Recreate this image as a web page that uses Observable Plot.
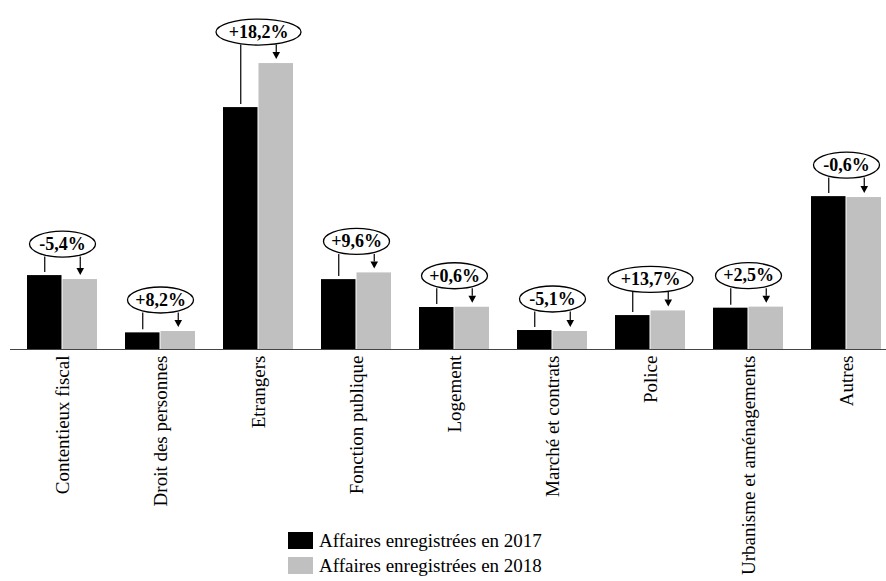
<!DOCTYPE html>
<html>
<head>
<meta charset="utf-8">
<script src="https://cdn.jsdelivr.net/npm/d3@7"></script>
<script src="https://cdn.jsdelivr.net/npm/@observablehq/plot@0.6"></script>
<style>
  html, body { margin: 0; padding: 0; background: #fff; overflow: hidden; }
  #chart { position: relative; width: 886px; height: 581px; overflow: hidden; }
  #chart svg { display: block; }
  .legend { position: absolute; left: 288px; top: 528px; font: 19px "Liberation Serif", serif; color: #000; }
  .legend .row { display: flex; align-items: center; height: 25px; white-space: nowrap; }
  .legend .sw { display: inline-block; width: 25px; height: 17px; margin-right: 6px; }
</style>
</head>
<body>
<div id="chart"></div>
<script>
// Matters handled by the administrative courts
const categories = [
  "Contentieux fiscal",
  "Droit des personnes",
  "Etrangers",
  "Fonction publique",
  "Logement",
  "Marché et contrats",
  "Police",
  "Urbanisme et aménagements",
  "Autres"
];

// Registered cases per matter
const cases2017 = [22000, 4950, 72000, 20800, 12500, 5650, 10100, 12300, 45500];
const cases2018 = [20810, 5356, 85104, 22797, 12575, 5362, 11484, 12608, 45227];

const seriesNames = ["Affaires enregistrées en 2017", "Affaires enregistrées en 2018"];
const seriesColors = ["#000000", "#c0c0c0"];

// Year-over-year change, French formatting (e.g. "+18,2%")
function changeLabel(a, b) {
  const pct = (b / a - 1) * 100;
  return (pct >= 0 ? "+" : "-") + Math.abs(pct).toFixed(1).replace(".", ",") + "%";
}

const rows = categories.map((category, i) => ({
  category,
  v2017: cases2017[i],
  v2018: cases2018[i],
  top: Math.max(cases2017[i], cases2018[i]),
  label: changeLabel(cases2017[i], cases2018[i])
}));

// Ellipse symbol: horizontal radius from the dot's r, fixed vertical radius
const RY = 13;
const ellipseSymbol = {
  draw(ctx, size) {
    const rx = Math.sqrt(size / Math.PI), ry = RY, k = 0.5523;
    ctx.moveTo(rx, 0);
    ctx.bezierCurveTo(rx, ry * k, rx * k, ry, 0, ry);
    ctx.bezierCurveTo(-rx * k, ry, -rx, ry * k, -rx, 0);
    ctx.bezierCurveTo(-rx, -ry * k, -rx * k, -ry, 0, -ry);
    ctx.bezierCurveTo(rx * k, -ry, rx, -ry * k, rx, 0);
    ctx.closePath();
  }
};

// Filled arrowhead with its tip at the origin, pointing down
const arrowHead = {
  draw(ctx) {
    ctx.moveTo(-3.8, -7);
    ctx.lineTo(3.8, -7);
    ctx.lineTo(0, 0);
    ctx.closePath();
  }
};

const half = 35.5;      // half of the group width: one bar per year
const offset = 17.75;   // distance from group centre to each bar centre
const bubbleDy = -31.5; // bubble centre above the taller bar
const lineTop = bubbleDy + RY; // bottom of the bubble

const plot = Plot.plot({
  width: 886,
  height: 581,
  marginLeft: 10,
  marginRight: -13,
  marginTop: 13,
  marginBottom: 232,
  style: {
    fontFamily: '"Liberation Serif", serif',
    fontSize: "19px",
    color: "#000",
    background: "transparent",
    overflow: "visible"
  },
  x: {
    domain: categories,
    paddingInner: 0.281,
    paddingOuter: 0.142,
    tickRotate: -90,
    tickSize: 0,
    tickPadding: 6,
    label: null
  },
  y: { domain: [0, 100000], axis: null },
  r: { type: "identity" },
  marks: [
    Plot.barY(rows, { x: "category", y: "v2017", fill: seriesColors[0], insetRight: half }),
    Plot.barY(rows, { x: "category", y: "v2018", fill: seriesColors[1], insetLeft: half }),
    Plot.ruleY([0], { stroke: "#444", strokeWidth: 1 }),
    // connector from the bubble down to the 2017 bar
    Plot.ruleX(rows, {
      x: "category", y1: "top", y2: "v2017", dx: -offset,
      insetTop: lineTop, insetBottom: 3, stroke: "#000", strokeWidth: 1.2
    }),
    // arrow shaft from the bubble down to the 2018 bar
    Plot.ruleX(rows, {
      x: "category", y1: "top", y2: "v2018", dx: offset,
      insetTop: lineTop, insetBottom: 11, stroke: "#000", strokeWidth: 1.2
    }),
    Plot.dot(rows, {
      x: "category", y: "v2018", dx: offset, dy: -4.5,
      symbol: arrowHead, fill: "#000", stroke: "none"
    }),
    // change bubbles
    Plot.dot(rows, {
      x: "category", y: "top", dy: bubbleDy,
      r: d => (d.label.length > 5 ? 42.5 : 33),
      symbol: ellipseSymbol, fill: "#fff", stroke: "#000", strokeWidth: 1.3
    }),
    Plot.text(rows, {
      x: "category", y: "top", dy: bubbleDy, text: "label",
      fontSize: 18, fontWeight: "bold", fill: "#000"
    })
  ]
});

const chart = document.getElementById("chart");
chart.appendChild(plot);

// Legend below the bars
const legend = document.createElement("div");
legend.className = "legend";
seriesNames.forEach((name, i) => {
  const row = document.createElement("div");
  row.className = "row";
  const sw = document.createElement("span");
  sw.className = "sw";
  sw.style.background = seriesColors[i];
  row.appendChild(sw);
  row.appendChild(document.createTextNode(name));
  legend.appendChild(row);
});
chart.appendChild(legend);
</script>
</body>
</html>
